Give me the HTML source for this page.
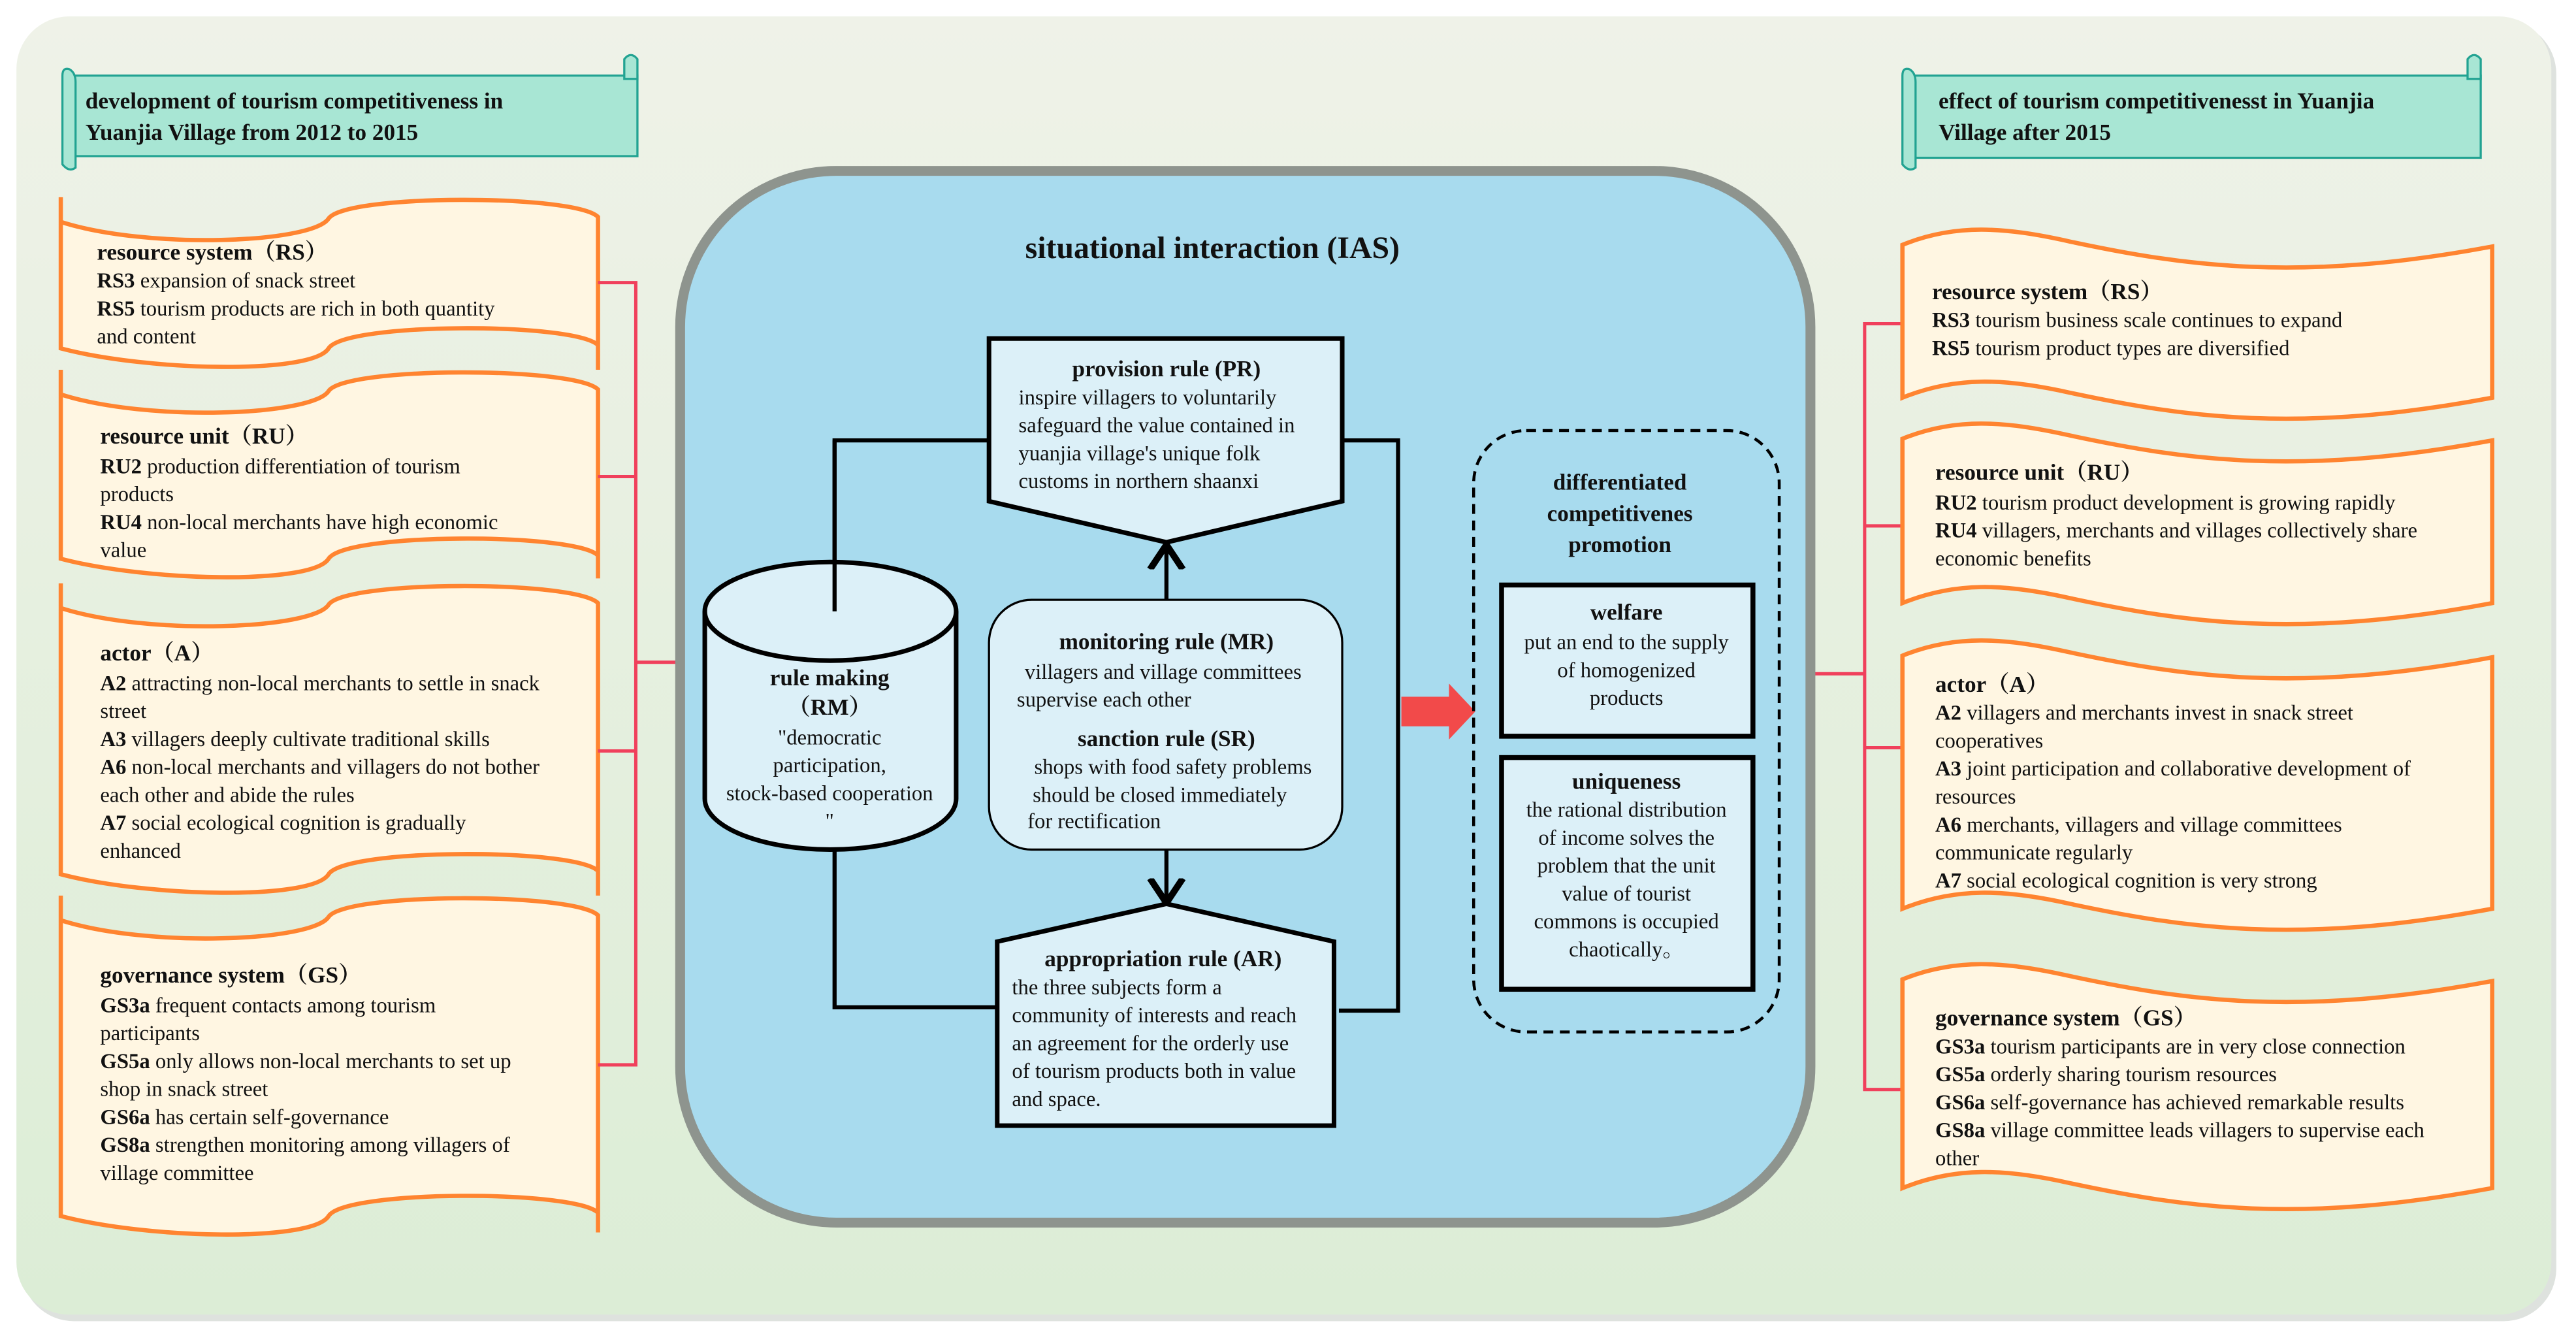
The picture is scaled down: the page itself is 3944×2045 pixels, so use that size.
<!DOCTYPE html>
<html><head><meta charset="utf-8"><style>
html,body{margin:0;padding:0;background:#fff;}
svg{display:block;}
text{font-family:"Liberation Serif","Noto Serif CJK SC",serif;font-size:13px;fill:#111;}
.h{font-weight:bold;font-size:14px;}
.b{font-weight:bold;}
</style></head><body>
<svg width="3944" height="2045" viewBox="0 0 1568 813" xmlns="http://www.w3.org/2000/svg">
<defs>
<linearGradient id="bg" x1="0" y1="0" x2="0" y2="1">
<stop offset="0" stop-color="#eff2e8"/><stop offset="1" stop-color="#dcedd6"/></linearGradient>
<marker id="ar" markerWidth="10" markerHeight="10" refX="5" refY="5" orient="auto"><path d="M0,1 L6,5 L0,9" fill="none" stroke="#000" stroke-width="1.6"/></marker>
</defs>
<rect x="0" y="0" width="1568" height="813" fill="#fff"/>
<rect x="13" y="13" width="1543" height="791" rx="32" fill="#c8cfc8" opacity="0.6"/>
<rect x="10" y="10" width="1543" height="790" rx="32" fill="url(#bg)"/>

<g stroke="#22a392" stroke-width="1.3" fill="#a8e6d4">
<path d="M44,46 H388 V95 H44 Z"/><path d="M38,46 Q38,41 42,42 Q46,44 46,50 V102 Q42,105 38,100 Z"/><path d="M380,36 Q384,31 388,36 V48 H380 Z"/>
<path d="M1164,46 H1510 V96 H1164 Z"/><path d="M1158,46 Q1158,41 1162,42 Q1166,44 1166,50 V102 Q1162,105 1158,100 Z"/><path d="M1502,36 Q1506,31 1510,36 V48 H1502 Z"/>
</g>
<text class="h" x="52" y="66">development of tourism  competitiveness in</text>
<text class="h" x="52" y="85">Yuanjia Village from 2012 to 2015</text>
<text class="h" x="1180" y="66">effect of tourism competitivenesst in  Yuanjia</text>
<text class="h" x="1180" y="85">Village after 2015</text>

<g stroke="#ff8430" stroke-width="2.6" fill="#fff6e2">
<path d="M37,120 V135 C90,152 190,148 200,133 C210,118 350,118 364,132 V225 V210 C350,196 210,196 200,212 C190,228 90,226 37,212 Z"/>
<path d="M37,225 V240 C90,257 190,253 200,238 C210,223 350,223 364,237 V352 V338 C350,324 210,324 200,340 C190,356 90,354 37,340 Z"/>
<path d="M37,355 V370 C90,387 190,383 200,368 C210,353 350,353 364,367 V545 V530 C350,516 210,516 200,532 C190,548 90,546 37,532 Z"/>
<path d="M37,545 V560 C90,577 190,573 200,558 C210,543 350,543 364,557 V750 V738 C350,724 210,724 200,740 C190,756 90,754 37,740 Z"/>
</g>
<g stroke="#f0405c" stroke-width="2" fill="none">
<path d="M364,172 H387 V648 H364 M364,290 H387 M364,457 H387 M387,403 H415"/>
<path d="M1158,197 H1135 V663 H1158 M1158,320 H1135 M1158,455 H1135 M1135,410 H1103"/>
</g>
<text x="59" y="158"><tspan class="h">resource system（RS）</tspan></text>
<text x="59" y="175"><tspan class="b">RS3</tspan> expansion of snack street</text>
<text x="59" y="192"><tspan class="b">RS5</tspan> tourism products are rich in both quantity</text>
<text x="59" y="209">and content</text>
<text x="61" y="270" class="h">resource unit（RU）</text>
<text x="61" y="288"><tspan class="b">RU2</tspan> production differentiation of tourism</text>
<text x="61" y="305">products</text>
<text x="61" y="322"><tspan class="b">RU4</tspan> non-local merchants have high economic</text>
<text x="61" y="339">value</text>
<text x="61" y="402" class="h">actor（A）</text>
<text x="61" y="420"><tspan class="b">A2</tspan> attracting non-local merchants to settle in snack</text>
<text x="61" y="437">street</text>
<text x="61" y="454"><tspan class="b">A3</tspan> villagers deeply cultivate traditional skills</text>
<text x="61" y="471"><tspan class="b">A6</tspan> non-local merchants and villagers do not bother</text>
<text x="61" y="488">each other and abide the rules</text>
<text x="61" y="505"><tspan class="b">A7</tspan> social ecological cognition is gradually</text>
<text x="61" y="522">enhanced</text>
<text x="61" y="598" class="h">governance system（GS）</text>
<text x="61" y="616"><tspan class="b">GS3a</tspan> frequent contacts among  tourism</text>
<text x="61" y="633">participants</text>
<text x="61" y="650"><tspan class="b">GS5a</tspan> only allows non-local merchants to set up</text>
<text x="61" y="667">shop in snack street</text>
<text x="61" y="684"><tspan class="b">GS6a</tspan> has certain self-governance</text>
<text x="61" y="701"><tspan class="b">GS8a</tspan> strengthen monitoring among villagers of</text>
<text x="61" y="718">village committee</text>

<g stroke="#ff8430" stroke-width="2.6" fill="#fff6e2">
<path d="M1158,149 C1190,136 1220,138 1260,147 C1330,162 1400,172 1517,150 V242 C1400,264 1330,254 1260,239 C1220,230 1190,229 1158,242 Z"/>
<path d="M1158,267 C1190,254 1220,256 1260,265 C1330,280 1400,290 1517,268 V367 C1400,389 1330,379 1260,364 C1220,355 1190,354 1158,367 Z"/>
<path d="M1158,399 C1190,386 1220,388 1260,397 C1330,412 1400,422 1517,400 V553 C1400,575 1330,565 1260,550 C1220,541 1190,540 1158,553 Z"/>
<path d="M1158,596 C1190,583 1220,585 1260,594 C1330,609 1400,619 1517,597 V723 C1400,745 1330,735 1260,720 C1220,711 1190,710 1158,723 Z"/>
</g>
<text x="1176" y="182" class="h">resource system（RS）</text>
<text x="1176" y="199"><tspan class="b">RS3</tspan> tourism business scale continues to expand</text>
<text x="1176" y="216"><tspan class="b">RS5</tspan> tourism product types are diversified</text>
<text x="1178" y="292" class="h">resource unit（RU）</text>
<text x="1178" y="310"><tspan class="b">RU2</tspan> tourism product development is growing rapidly</text>
<text x="1178" y="327"><tspan class="b">RU4</tspan> villagers, merchants and villages collectively share</text>
<text x="1178" y="344">economic benefits</text>
<text x="1178" y="421" class="h">actor（A）</text>
<text x="1178" y="438"><tspan class="b">A2</tspan> villagers and merchants invest in snack street</text>
<text x="1178" y="455">cooperatives</text>
<text x="1178" y="472"><tspan class="b">A3</tspan> joint participation and collaborative development of</text>
<text x="1178" y="489">resources</text>
<text x="1178" y="506"><tspan class="b">A6</tspan> merchants, villagers and village committees</text>
<text x="1178" y="523">communicate regularly</text>
<text x="1178" y="540"><tspan class="b">A7</tspan> social ecological cognition is very strong</text>
<text x="1178" y="624" class="h">governance system（GS）</text>
<text x="1178" y="641"><tspan class="b">GS3a</tspan> tourism participants are in very close connection</text>
<text x="1178" y="658"><tspan class="b">GS5a</tspan> orderly sharing tourism resources</text>
<text x="1178" y="675"><tspan class="b">GS6a</tspan> self-governance has achieved remarkable results</text>
<text x="1178" y="692"><tspan class="b">GS8a</tspan> village committee leads villagers to supervise each</text>
<text x="1178" y="709">other</text>

<rect x="414" y="104" width="688" height="640" rx="95" fill="#a8dbee" stroke="#8e948e" stroke-width="6"/>
<text x="738" y="157" text-anchor="middle" style="font-size:19px;font-weight:bold">situational interaction (IAS)</text>

<g stroke="#000" stroke-width="2.5" fill="none">
<path d="M602,268 H508 V370"/>
<path d="M817,268 H851 V615 H815"/>
<path d="M508,518 V613 H607"/>
<path d="M710,365 V334" marker-end="url(#ar)"/>
<path d="M710,517 V547" marker-end="url(#ar)"/>
</g>
<path d="M602,206 H817 V305 L710,330 L602,305 Z" fill="#dcf0f8" stroke="#000" stroke-width="2.8"/>
<text x="710" y="229" text-anchor="middle" class="h">provision rule (PR)</text>
<text x="620" y="246">inspire villagers to voluntarily</text>
<text x="620" y="263">safeguard the value contained in</text>
<text x="620" y="280">yuanjia village's unique folk</text>
<text x="620" y="297">customs in northern shaanxi</text>

<path d="M429,372 V486 A76.5,31 0 0 0 582,486 V372" fill="#dcf0f8" stroke="#000" stroke-width="2.8"/>
<ellipse cx="505.5" cy="372" rx="76.5" ry="30" fill="#dcf0f8" stroke="#000" stroke-width="2.8"/>
<path d="M508,268 V372" stroke="#000" stroke-width="2.5"/>
<g text-anchor="middle">
<text x="505" y="417" class="h">rule making</text>
<text x="505" y="435" class="h">（RM）</text>
<text x="505" y="453">"democratic</text>
<text x="505" y="470">participation,</text>
<text x="505" y="487">stock-based cooperation</text>
<text x="505" y="504">"</text>
</g>

<rect x="602" y="365" width="215" height="152" rx="26" fill="#dcf0f8" stroke="#000" stroke-width="1.3"/>
<g text-anchor="middle">
<text x="710" y="395" class="h">monitoring rule (MR)</text>
<text x="708" y="413">villagers and village committees</text>
<text x="672" y="430">supervise each other</text>
<text x="710" y="454" class="h">sanction rule (SR)</text>
<text x="714" y="471">shops with food safety problems</text>
<text x="706" y="488">should be closed immediately</text>
<text x="666" y="504">for rectification</text>
</g>

<path d="M710,550 L812,573 V685 H607 V573 Z" fill="#dcf0f8" stroke="#000" stroke-width="2.8"/>
<text x="708" y="588" text-anchor="middle" class="h">appropriation rule (AR)</text>
<text x="616" y="605">the three subjects form a</text>
<text x="616" y="622">community of interests and reach</text>
<text x="616" y="639">an agreement for the orderly use</text>
<text x="616" y="656">of tourism products both in value</text>
<text x="616" y="673">and space.</text>

<path d="M853,424 H882 V416 L898,433 L882,450 V442 H853 Z" fill="#f24a4a"/>

<rect x="897" y="262" width="186" height="366" rx="32" fill="none" stroke="#000" stroke-width="1.8" stroke-dasharray="6,4"/>
<g text-anchor="middle">
<text x="986" y="298" class="h">differentiated</text>
<text x="986" y="317" class="h">competitivenes</text>
<text x="986" y="336" class="h">promotion</text>
</g>
<rect x="914" y="356" width="153" height="92" fill="#dcf0f8" stroke="#000" stroke-width="3"/>
<g text-anchor="middle">
<text x="990" y="377" class="h">welfare</text>
<text x="990" y="395">put an end to the supply</text>
<text x="990" y="412">of homogenized</text>
<text x="990" y="429">products</text>
</g>
<rect x="914" y="461" width="153" height="141" fill="#dcf0f8" stroke="#000" stroke-width="3"/>
<g text-anchor="middle">
<text x="990" y="480" class="h">uniqueness</text>
<text x="990" y="497">the rational distribution</text>
<text x="990" y="514">of income solves the</text>
<text x="990" y="531">problem that the unit</text>
<text x="990" y="548">value of tourist</text>
<text x="990" y="565">commons is occupied</text>
<text x="990" y="582">chaotically。</text>
</g>
</svg>
</body></html>
